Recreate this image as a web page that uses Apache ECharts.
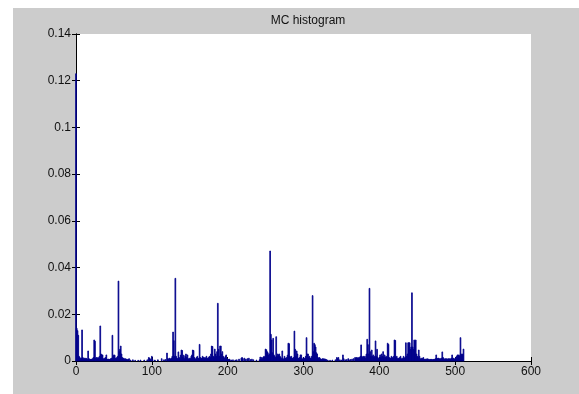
<!DOCTYPE html>
<html>
<head>
<meta charset="utf-8">
<script src="https://cdn.jsdelivr.net/npm/echarts@6/dist/echarts.min.js"></script>
<style>
  html, body { margin: 0; padding: 0; background: #fff; }
  #chart { width: 579px; height: 394px; }
</style>
</head>
<body>
<div id="chart"></div>
<script>
// x ticks / y ticks
const xTicks = [0, 100, 200, 300, 400, 500, 600]
const yTicks = [0, 0.02, 0.04, 0.06, 0.08, 0.1, 0.12, 0.14]

// histogram bins: [bin, relative frequency]
const histData = [
  [0,0.123],[1,0.014],[2,0.013],[3,0.011],[4,0.002],[5,0.0015],[6,0.001],[7,0.0012],[8,0.0133],[9,0.0015],
  [10,0.001],[11,0.0012],[12,0.0008],[13,0.0012],[14,0.001],[15,0.0008],[16,0.0043],[17,0.001],[18,0.0008],[19,0.0006],
  [20,0.0008],[21,0.0006],[22,0.001],[23,0.0015],[24,0.009],[25,0.0085],[26,0.0012],[27,0.0015],[28,0.001],[29,0.0015],
  [30,0.0012],[31,0.002],[32,0.015],[33,0.003],[34,0.0026],[35,0.0026],[36,0.001],[37,0.0008],[38,0.0012],[39,0.0015],
  [40,0.0026],[41,0.0008],[42,0.0006],[43,0.0008],[44,0.0006],[45,0.0008],[46,0.001],[47,0.0012],[48,0.011],[49,0.002],
  [50,0.0026],[51,0.0025],[52,0.0012],[53,0.001],[54,0.0015],[55,0.002],[56,0.0342],[57,0.004],[58,0.005],[59,0.0064],
  [60,0.003],[61,0.0015],[62,0.001],[63,0.0012],[64,0.0008],[65,0.001],[66,0.0006],[67,0.0008],[68,0.0005],[69,0.0006],
  [70,0.001],[72,0.0004],[75,0.0005],[78,0.0003],[82,0.0003],[85,0.0004],[90,0.0004],[94,0.0005],[96,0.0015],[97,0.0012],
  [98,0.0008],[100,0.002],[101,0.0006],[104,0.0004],[108,0.0005],[113,0.001],[116,0.0005],[118,0.0006],
  [120,0.0034],[121,0.001],[122,0.0008],[123,0.0012],[124,0.001],[125,0.0008],[126,0.0012],[127,0.002],[128,0.0124],[129,0.0087],
  [130,0.002],[131,0.0354],[132,0.002],[133,0.0012],[134,0.001],[135,0.0039],[136,0.0015],[137,0.001],[138,0.0025],[139,0.0047],
  [140,0.0045],[141,0.0015],[142,0.0025],[143,0.001],[144,0.002],[145,0.003],[146,0.0015],[147,0.0026],[148,0.001],[149,0.0008],
  [150,0.0012],[151,0.001],[152,0.002],[153,0.0026],[154,0.0047],[155,0.0045],[156,0.0015],[157,0.001],[158,0.0008],[159,0.0015],
  [160,0.002],[161,0.0012],[162,0.001],[163,0.0071],[164,0.0015],[165,0.001],[166,0.0012],[167,0.002],[168,0.0015],[169,0.001],
  [170,0.0015],[171,0.0012],[172,0.002],[173,0.0012],[174,0.001],[175,0.0015],[176,0.002],[177,0.0015],[178,0.003],[179,0.0064],
  [180,0.0062],[181,0.002],[182,0.0015],[183,0.0051],[184,0.003],[185,0.002],[186,0.004],[187,0.0247],[188,0.005],[189,0.002],
  [190,0.0064],[191,0.0064],[192,0.003],[193,0.004],[194,0.002],[195,0.0015],[196,0.0012],[197,0.002],[198,0.0026],[199,0.001],
  [200,0.0008],[201,0.0006],[202,0.0008],[203,0.0005],[205,0.0004],[207,0.0005],[210,0.0004],[212,0.0005],[215,0.0008],[218,0.0012],
  [219,0.0015],[220,0.001],[222,0.0012],[224,0.0008],[226,0.001],[228,0.0012],[230,0.0006],[232,0.0008],[234,0.0005],[238,0.0004],
  [242,0.0005],[243,0.0017],[244,0.0008],[245,0.0015],[246,0.001],[247,0.0017],[248,0.002],[249,0.0015],
  [250,0.0051],[251,0.0048],[252,0.004],[253,0.0035],[254,0.0025],[255,0.003],[256,0.0471],[257,0.0114],[258,0.009],[259,0.0035],
  [260,0.0097],[261,0.0026],[262,0.002],[263,0.0015],[264,0.0104],[265,0.002],[266,0.003],[267,0.0025],[268,0.003],[269,0.002],
  [270,0.0015],[271,0.001],[272,0.0043],[273,0.001],[274,0.0008],[275,0.002],[276,0.0012],[277,0.001],[278,0.0015],[279,0.0025],
  [280,0.0076],[281,0.0074],[282,0.002],[283,0.0015],[284,0.002],[285,0.0012],[286,0.001],[287,0.0015],[288,0.0128],[289,0.005],
  [290,0.002],[291,0.0043],[292,0.003],[293,0.0012],[294,0.001],[295,0.0015],[296,0.0026],[297,0.0026],[298,0.001],[299,0.0008],
  [300,0.0015],[301,0.001],[302,0.0012],[303,0.002],[304,0.01],[305,0.003],[306,0.003],[307,0.0015],[308,0.002],[309,0.0012],
  [310,0.001],[311,0.002],[312,0.028],[313,0.004],[314,0.0076],[315,0.007],[316,0.006],[317,0.0035],[318,0.003],[319,0.0015],
  [320,0.0012],[321,0.0015],[322,0.001],[323,0.0008],[324,0.0006],[325,0.001],[326,0.0008],[327,0.001],[328,0.0006],[329,0.0008],
  [330,0.0006],[332,0.0004],[335,0.0003],[338,0.0004],[342,0.0005],[344,0.0015],[345,0.001],[346,0.0015],[348,0.0005],[350,0.0004],
  [352,0.0026],[353,0.001],[355,0.0005],[357,0.0006],[359,0.001],[360,0.0005],[362,0.0006],[364,0.0008],[366,0.001],[368,0.0015],
  [369,0.0012],[370,0.0015],[371,0.0012],[372,0.0015],[373,0.001],[374,0.0015],[375,0.002],[376,0.0069],[377,0.002],[378,0.0015],
  [379,0.002],[380,0.0015],[381,0.002],[382,0.0012],[383,0.003],[384,0.0093],[385,0.007],[386,0.003],[387,0.0311],[388,0.004],
  [389,0.002],[390,0.0047],[391,0.002],[392,0.0026],[393,0.0015],[394,0.002],[395,0.0086],[396,0.002],[397,0.005],[398,0.0015],
  [399,0.001],[400,0.0012],[401,0.0026],[402,0.0015],[403,0.003],[404,0.002],[405,0.004],[406,0.0015],[407,0.0026],[408,0.0015],
  [409,0.002],[410,0.0015],[411,0.0076],[412,0.0071],[413,0.0015],[414,0.001],[415,0.0012],[416,0.002],[417,0.0015],[418,0.0012],
  [419,0.002],[420,0.009],[421,0.0088],[422,0.0015],[423,0.002],[424,0.001],[425,0.0012],[426,0.001],[427,0.0015],[428,0.002],
  [429,0.001],[430,0.0008],[431,0.0012],[432,0.002],[433,0.0012],[434,0.0015],[435,0.0078],[436,0.002],[437,0.003],[438,0.0078],
  [439,0.0078],[440,0.0078],[441,0.005],[442,0.006],[443,0.0292],[444,0.006],[445,0.005],[446,0.009],[447,0.0085],[448,0.009],
  [449,0.003],[450,0.002],[451,0.0015],[452,0.0047],[453,0.002],[454,0.001],[455,0.0008],[456,0.0012],[457,0.001],[458,0.0015],
  [459,0.0008],[460,0.0006],[461,0.0008],[462,0.0006],[463,0.001],[464,0.0006],[465,0.0008],[466,0.0005],[467,0.0007],[468,0.0006],
  [469,0.0007],[470,0.0005],[471,0.0007],[472,0.0006],[473,0.0007],[474,0.001],[475,0.0026],[476,0.0012],[477,0.001],[478,0.0012],
  [479,0.001],[480,0.0008],[481,0.001],[482,0.0012],[483,0.0039],[484,0.0015],[485,0.001],[486,0.0008],[487,0.001],[488,0.0008],
  [489,0.001],[490,0.0007],[491,0.001],[492,0.0008],[493,0.001],[494,0.0008],[495,0.0012],[496,0.0026],[497,0.001],[498,0.0012],
  [499,0.0008],[500,0.001],[501,0.0015],[502,0.002],[503,0.0026],[504,0.0025],[505,0.0026],[506,0.002],[507,0.01],[508,0.003],
  [509,0.0025],[510,0.003],[511,0.0051]
]

const font = 'Liberation Sans, Arial, sans-serif'
const barColor = '#00008b'
const chart = echarts.init(document.getElementById('chart'))

// each bin is drawn one unit wide, centred on its index
function renderBin(params, api) {
  const x = api.value(0)
  const y = api.value(1)
  const p0 = api.coord([x - 0.5, 0])
  const p1 = api.coord([x + 0.5, y])
  return {
    type: 'rect',
    shape: {x: p0[0], y: p1[1], width: p1[0] - p0[0], height: p0[1] - p1[1]},
    style: {fill: barColor, stroke: barColor, lineWidth: 0.8}
  }
}

const axisLine = {show: true, lineStyle: {color: '#000', width: 1}}
const tick = {show: true, inside: true, length: 4, lineStyle: {color: '#000'}}

chart.setOption({
  animation: false,
  graphic: [{
    type: 'rect', left: 13, top: 8, z: -10,
    shape: {width: 566, height: 386},
    style: {fill: '#cccccc'}
  }],
  title: {
    text: 'MC histogram',
    left: 303, top: 10, textAlign: 'center',
    textStyle: {fontFamily: font, fontSize: 12, fontWeight: 'normal', color: '#111'}
  },
  grid: {left: 76, top: 34, width: 455, height: 327, show: true, backgroundColor: '#fff', borderWidth: 0},
  xAxis: [{
    type: 'value', min: xTicks[0], max: xTicks[xTicks.length - 1], interval: 100,
    axisLine: axisLine,
    axisTick: tick,
    axisLabel: {fontFamily: font, fontSize: 12, color: '#111', margin: 5},
    splitLine: {show: false}
  }, {
    type: 'value', position: 'top', min: xTicks[0], max: xTicks[xTicks.length - 1], interval: 100,
    axisLine: axisLine,
    axisTick: tick,
    axisLabel: {show: false},
    splitLine: {show: false}
  }],
  yAxis: [{
    type: 'value', min: yTicks[0], max: yTicks[yTicks.length - 1], interval: 0.02,
    axisLine: axisLine,
    axisTick: tick,
    axisLabel: {fontFamily: font, fontSize: 12, color: '#111', margin: 5,
      formatter: v => String(+v.toFixed(2))},
    splitLine: {show: false}
  }, {
    type: 'value', position: 'right', min: yTicks[0], max: yTicks[yTicks.length - 1], interval: 0.02,
    axisLine: axisLine,
    axisTick: tick,
    axisLabel: {show: false},
    splitLine: {show: false}
  }],
  series: [{
    type: 'custom',
    renderItem: renderBin,
    encode: {x: 0, y: 1},
    data: histData
  }]
})
</script>
</body>
</html>
